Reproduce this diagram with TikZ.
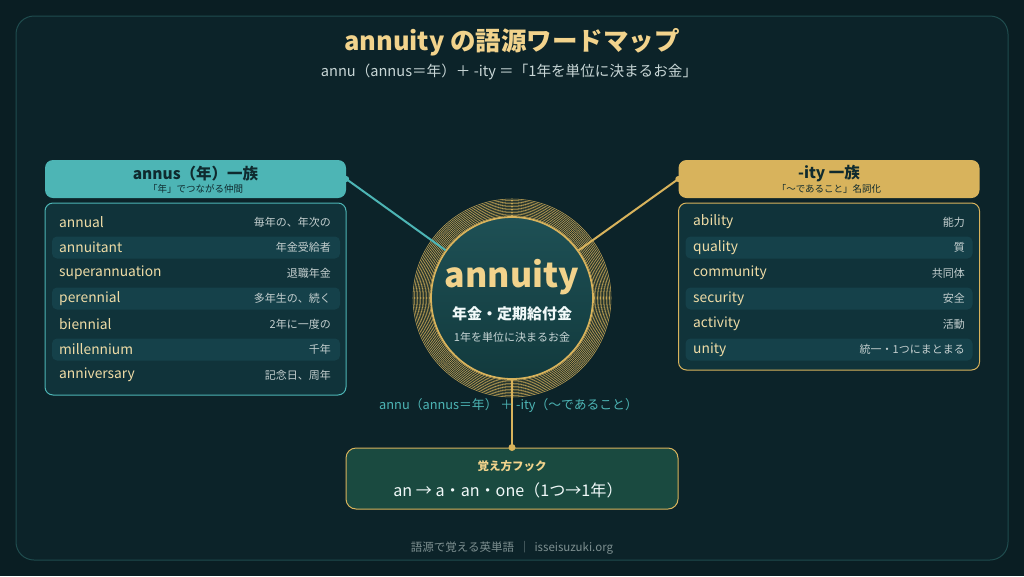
\documentclass[tikz,border=0pt]{standalone}
\usepackage{fontspec}
\setmainfont{Noto Sans CJK JP}
\usetikzlibrary{calc}
\definecolor{bgc}{HTML}{0A1E23}
\definecolor{framefill}{HTML}{0C2329}
\definecolor{framec}{HTML}{1F4C4E}
\definecolor{teal}{HTML}{4DB5B5}
\definecolor{gold}{HTML}{D8B35C}
\definecolor{titlegold}{HTML}{F2D38C}
\definecolor{wordc}{HTML}{EFDCA6}
\definecolor{meanc}{HTML}{C4CFCF}
\definecolor{listfill}{HTML}{10333A}
\definecolor{stripe}{HTML}{15414A}
\definecolor{hookfill}{HTML}{1A4A40}
\definecolor{darktxt}{HTML}{0F2A2E}
\definecolor{subc}{HTML}{C8D6D6}
\definecolor{footc}{HTML}{7D8F90}
\definecolor{coretop}{HTML}{1E5055}
\definecolor{corebot}{HTML}{123A3D}
\definecolor{ringc}{HTML}{C6A656}
\tikzset{
  headbox/.style={rounded corners=8pt, minimum width=301pt, minimum height=38pt, inner sep=0pt},
  listbox/.style={rounded corners=8pt, fill=listfill, line width=1pt, minimum width=301pt, inner sep=0pt},
  stripebox/.style={rounded corners=5pt, fill=stripe, minimum height=22pt, inner sep=0pt},
  word/.style={anchor=west, text=wordc, font=\fontsize{13.8}{14}\selectfont, inner sep=0pt},
  mean/.style={anchor=east, text=meanc, font=\fontsize{11}{11}\selectfont, inner sep=0pt},
  headtitle/.style={text=darktxt, font=\bfseries\fontsize{15.5}{16}\selectfont, inner sep=0pt},
  headsub/.style={text=darktxt, font=\fontsize{9.5}{10}\selectfont, inner sep=0pt},
}
\begin{document}
\begin{tikzpicture}[x=1pt,y=-1pt]
\useasboundingbox (0,0) rectangle (1024,576);
\fill[bgc] (0,0) rectangle (1024,576);
\draw[framec, fill=framefill, line width=1pt, rounded corners=18pt] (16,16) rectangle (1008,560);

% title
\node[text=titlegold, font=\bfseries\fontsize{25.5}{26}\selectfont] (title) at (512,42) {annuity の語源ワードマップ};
\node[text=subc, font=\fontsize{14.6}{15}\selectfont] (subtitle) at (509,72) {annu（annus＝年）＋ -ity ＝「1年を単位に決まるお金」};

% left family
\node[headbox, fill=teal] (lhead) at (195.5,179) {};
\node[headtitle] (lht) at (195.5,174) {annus（年）一族};
\node[headsub] (lhs) at (195.5,189) {「年」でつながる仲間};
\node[listbox, draw=teal, minimum height=192pt] (llist) at (195.5,299) {};
\foreach \yy in {247.5,298.5,349.5} \node[stripebox, minimum width=288pt] at (196,\yy) {};
\node[word] (lw1) at (59,222) {annual};
\node[mean] (lm1) at (331,222) {毎年の、年次の};
\node[word] (lw2) at (59,247.5) {annuitant};
\node[mean] (lm2) at (331,247.5) {年金受給者};
\node[word] (lw3) at (59,273) {superannuation};
\node[mean] (lm3) at (331,273) {退職年金};
\node[word] (lw4) at (59,298.5) {perennial};
\node[mean] (lm4) at (331,298.5) {多年生の、続く};
\node[word] (lw5) at (59,324) {biennial};
\node[mean] (lm5) at (331,324) {2年に一度の};
\node[word] (lw6) at (59,349.5) {millennium};
\node[mean] (lm6) at (331,349.5) {千年};
\node[word] (lw7) at (59,375) {anniversary};
\node[mean] (lm7) at (331,375) {記念日、周年};

% right family
\node[headbox, fill=gold] (rhead) at (829,179) {};
\node[headtitle] (rht) at (829,174) {-ity 一族};
\node[headsub] (rhs) at (829,189) {「〜であること」名詞化};
\node[listbox, draw=gold, minimum height=167pt] (rlist) at (829,286.5) {};
\foreach \yy in {247.5,298.5,349.5} \node[stripebox, minimum width=287pt] at (829,\yy) {};
\node[word] (rw1) at (693,222) {ability};
\node[mean] (rm1) at (965,222) {能力};
\node[word] (rw2) at (693,247.5) {quality};
\node[mean] (rm2) at (965,247.5) {質};
\node[word] (rw3) at (693,273) {community};
\node[mean] (rm3) at (965,273) {共同体};
\node[word] (rw4) at (693,298.5) {security};
\node[mean] (rm4) at (965,298.5) {安全};
\node[word] (rw5) at (693,324) {activity};
\node[mean] (rm5) at (965,324) {活動};
\node[word] (rw6) at (693,349.5) {unity};
\node[mean] (rm6) at (965,349.5) {統一・1つにまとまる};

% central ring
\foreach \r in {82.5,84,...,100} \draw[ringc, line width=0.55pt] (512,298) circle[radius=\r];
\node[circle, minimum size=162pt, inner sep=0pt, draw=gold, line width=1.8pt, top color=coretop, bottom color=corebot] (core) at (512,298) {};
\node[text=titlegold, font=\bfseries\fontsize{34}{35}\selectfont] (coret) at (512,277) {annuity};
\node[text=white!92!teal, font=\bfseries\fontsize{15}{16}\selectfont] (corem) at (512,314) {年金・定期給付金};
\node[text=subc, font=\fontsize{11}{12}\selectfont] (cores) at (512,337) {1年を単位に決まるお金};

% connectors
\draw[teal, line width=2pt] (lhead.east) -- (core);
\fill[teal] (lhead.east) circle[radius=3pt];
\draw[gold, line width=2pt] (rhead.west) -- (core);
\fill[gold] (rhead.west) circle[radius=3pt];

% hook
\node[rounded corners=10pt, fill=hookfill, draw=gold, line width=1pt, minimum width=332pt, minimum height=61pt, inner sep=0pt] (hook) at (512,478.5) {};
\draw[gold, line width=1.5pt] (core.south) -- (hook.north);
\fill[gold] (hook.north) circle[radius=3.5pt];
\node[text=titlegold, font=\bfseries\fontsize{11.5}{12}\selectfont] (hookt) at (512,466) {覚え方フック};
\node[text=white!92!teal, font=\fontsize{16.1}{17}\selectfont] (hookm) at (508,490) {an → a・an・one（1つ→1年）};

% formula label
\node[text=teal, font=\fontsize{12.8}{13}\selectfont] (formula) at (508.5,406) {annu（annus＝年） ＋ -ity（〜であること）};

% footer
\node[text=footc, font=\fontsize{11.5}{12}\selectfont] (footer) at (512,548) {語源で覚える英単語 \,｜\, isseisuzuki.org};
\end{tikzpicture}
\end{document}
